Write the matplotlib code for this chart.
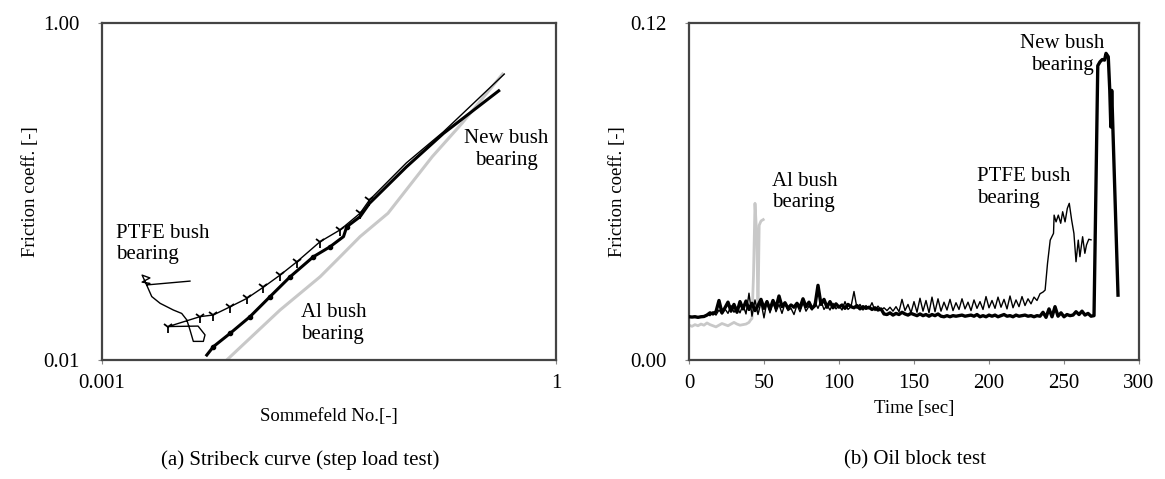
import matplotlib
matplotlib.use("Agg")
import matplotlib.pyplot as plt
from matplotlib.ticker import FixedLocator, NullLocator, FixedFormatter

plt.rcParams['font.family'] = ['Liberation Serif', 'DejaVu Serif']
plt.rcParams['font.size'] = 15

# (a) Stribeck curve: Sommerfeld number vs friction coefficient
al_a_x = [0.00667, 0.0150, 0.0276, 0.0374, 0.0507, 0.0775, 0.152, 0.239, 0.443]
al_a_y = [0.0100, 0.0198, 0.0312, 0.0410, 0.0540, 0.0743, 0.161, 0.254, 0.498]

new_a_x = [0.00492, 0.00544, 0.00702, 0.00951, 0.0129, 0.0175, 0.0249, 0.0321,
           0.0394, 0.0414, 0.0507, 0.0585, 0.1026, 0.180, 0.418]
new_a_y = [0.0107, 0.0120, 0.0144, 0.0181, 0.0238, 0.0312, 0.0410, 0.0470,
           0.0540, 0.0618, 0.0709, 0.0851, 0.140, 0.221, 0.396]

ptfe_a_x = [0.00381, 0.00197, 0.00184, 0.00207, 0.00184, 0.00207, 0.00197,
            0.00213, 0.00242, 0.00296, 0.00336, 0.00363, 0.00381, 0.00401,
            0.00467, 0.00479, 0.00431, 0.00274, 0.00445, 0.00543, 0.00702,
            0.00904, 0.0116, 0.0150, 0.0194, 0.0276, 0.0374, 0.0507, 0.0585,
            0.1026, 0.180, 0.455]
ptfe_a_y = [0.0294, 0.0279, 0.0319, 0.0307, 0.0290, 0.0285, 0.0279,
            0.0238, 0.0217, 0.0198, 0.0189, 0.0173, 0.0151, 0.0129,
            0.0129, 0.0141, 0.0159, 0.0158, 0.0181, 0.0185, 0.0207,
            0.0232, 0.0270, 0.0319, 0.0383, 0.0504, 0.0592, 0.0743, 0.0891,
            0.148, 0.226, 0.498]

# (b) Oil block test: time [sec] vs friction coefficient (x1e-3)
al_b_t = [0, 2, 4, 6, 8, 10, 12, 14, 16, 18, 20, 22, 24, 26, 28, 30, 32, 34, 36, 38,
          40, 41, 42, 43, 44, 45.2, 46, 46.8, 48, 49.5]
al_b_f = [12.4, 12.0, 12.6, 12.2, 12.8, 12.4, 13.2, 12.6, 12.2, 11.8, 12.4, 13.0,
          12.6, 12.2, 12.8, 13.4, 12.8, 12.4, 12.6, 12.8, 13.4, 14.2, 14.8, 30.0,
          55.8, 44.0, 17.0, 48.0, 49.5, 50.0]

new_b_t = list(range(0, 272, 2)) + [272.5, 274, 275.5, 277, 278, 279.5, 280.5, 281.2, 281.8, 286]
new_b_f = [15.4, 15.3, 15.4, 15.2, 15.4, 15.5, 16.0, 16.8, 16.4, 17.2,
           21.2, 16.8, 18.6, 20.6, 17.4, 19.8, 17.0, 20.8, 18.2, 21.0,
           18.0, 20.2, 17.6, 19.4, 21.6, 18.4, 20.8, 18.0, 21.2, 18.6,
           22.8, 19.0, 20.4, 18.4, 19.6, 18.8, 20.2, 18.6, 21.8, 19.0,
           20.6, 18.4, 19.4, 26.6, 19.8, 21.6, 18.8, 20.8, 18.6, 20.0,
           18.8, 19.6, 18.4, 19.8, 19.0, 18.6, 19.4, 18.2, 19.0, 18.4,
           18.8, 18.0, 18.6, 17.8, 18.2, 16.4, 16.2, 16.8, 16.0, 16.6,
           16.2, 17.0, 16.4, 16.0, 16.6, 16.2, 15.8, 16.4, 15.8, 16.2,
           15.6, 16.2, 15.8, 16.4, 15.6, 15.4, 15.8, 15.4, 15.8, 15.6,
           15.8, 16.0, 15.6, 15.8, 16.0, 15.6, 16.2, 15.4, 15.8, 15.4,
           16.0, 15.6, 16.0, 15.4, 15.8, 16.2, 15.6, 15.8, 15.4, 16.0,
           15.6, 15.8, 16.0, 15.6, 15.8, 15.4, 15.8, 15.6, 17.0, 15.2,
           18.2, 15.4, 19.0, 15.6, 16.8, 15.4, 16.2, 15.8, 16.0, 17.2,
           16.2, 17.4, 16.0, 16.6, 15.6, 15.8,
           104.8, 106.2, 107.0, 106.8, 109.2, 108.0, 96.0, 83.0, 96.0, 23.1]

ptfe_b_t = list(range(0, 236, 2)) + [236, 237.4, 239, 240.8, 243, 243.4, 244.7, 246.2,
                                      247.8, 249.1, 250.7, 252.2, 253.5, 255.1, 256.6,
                                      258, 259.5, 260.6, 262.4, 263.9, 265, 266.5, 268]
ptfe_b_f = [15.6, 15.4, 15.6, 15.3, 15.5, 15.6, 16.2, 15.8, 17.2, 16.0,
            17.8, 16.4, 18.2, 16.6, 19.4, 17.0, 18.8, 16.8, 19.6, 16.4,
            23.8, 15.6, 21.4, 16.2, 20.6, 15.0, 21.0, 16.8, 20.8, 17.2,
            19.8, 16.6, 20.2, 17.6, 18.4, 16.2, 19.6, 17.2, 20.4, 17.4,
            19.2, 17.8, 20.6, 18.4, 21.0, 18.0, 19.6, 17.8, 20.2, 18.2,
            19.4, 17.8, 20.8, 18.0, 19.0, 24.4, 18.4, 19.8, 17.8, 19.4,
            18.2, 20.4, 17.6, 19.2, 17.8, 18.6, 17.6, 18.8, 17.4, 19.0,
            17.2, 21.6, 17.6, 19.8, 16.8, 20.8, 17.0, 22.0, 17.4, 21.2,
            16.8, 22.4, 17.2, 21.8, 17.4, 20.6, 17.8, 21.6, 17.6, 20.4,
            18.0, 21.8, 18.2, 20.6, 17.6, 21.4, 18.4, 20.8, 18.0, 22.6,
            18.6, 21.2, 18.4, 22.4, 18.8, 21.6, 18.2, 22.8, 18.6, 21.4,
            19.0, 22.6, 19.4, 21.8, 20.0, 22.4, 21.2, 23.6,
            24.2, 24.9, 34.4, 42.7, 45.1, 51.6, 49.2, 51.6, 48.7, 52.8,
            49.2, 54.0, 55.8, 49.8, 45.1, 35.0, 42.7, 36.8, 43.9, 38.0,
            41.0, 43.0, 42.8]

spine_col = '#444444'
gray_col = '#c8c8c8'

fig = plt.figure(figsize=(11.65, 4.79), dpi=100)
ax1 = fig.add_axes([0.0876, 0.2484, 0.3897, 0.7035])
ax2 = fig.add_axes([0.5914, 0.2484, 0.3863, 0.7035])

# --- (a) ---
ax1.plot(al_a_x, al_a_y, color=gray_col, lw=2.2, zorder=2)
ax1.plot(new_a_x, new_a_y, color='black', lw=2.2, marker='o', ms=3,
         markevery=[1, 2, 3, 4, 5, 6, 7, 9], zorder=3)
ax1.plot(ptfe_a_x, ptfe_a_y, color='black', lw=1.0, marker='1', ms=8, mew=1.3,
         markevery=list(range(17, 29)), zorder=4)
ax1.set_xscale('log')
ax1.set_yscale('log')
ax1.set_xlim(0.001, 1)
ax1.set_ylim(0.01, 1)
ax1.xaxis.set_major_locator(FixedLocator([0.001, 1]))
ax1.xaxis.set_major_formatter(FixedFormatter(['0.001', '1']))
ax1.yaxis.set_major_locator(FixedLocator([0.01, 1]))
ax1.yaxis.set_major_formatter(FixedFormatter(['0.01', '1.00']))
ax1.xaxis.set_minor_locator(NullLocator())
ax1.yaxis.set_minor_locator(NullLocator())
ax1.set_xlabel('Sommefeld No.[-]', fontsize=13.5, labelpad=11)
ax1.set_ylabel('Friction coeff. [-]', fontsize=13.5, labelpad=3)
ax1.text(0.00124, 0.0488, 'PTFE bush\nbearing', ha='left', va='center')
ax1.text(0.468, 0.178, 'New bush\nbearing', ha='center', va='center')
ax1.text(0.0207, 0.0164, 'Al bush\nbearing', ha='left', va='center')

# --- (b) ---
ax2.plot(al_b_t, [v / 1000 for v in al_b_f], color=gray_col, lw=2.0, zorder=2)
ax2.plot(ptfe_b_t, [v / 1000 for v in ptfe_b_f], color='black', lw=1.0, zorder=4)
ax2.plot(new_b_t, [v / 1000 for v in new_b_f], color='black', lw=2.4, zorder=3)
ax2.set_xlim(0, 300)
ax2.set_ylim(0, 0.12)
ax2.set_xticks([0, 50, 100, 150, 200, 250, 300])
ax2.set_yticks([0, 0.12])
ax2.set_yticklabels(['0.00', '0.12'])
ax2.set_xlabel('Time [sec]', fontsize=13.5, labelpad=5)
ax2.set_ylabel('Friction coeff. [-]', fontsize=13.5, labelpad=3)
ax2.text(55.3, 0.0598, 'Al bush\nbearing', ha='left', va='center')
ax2.text(192, 0.0614, 'PTFE bush\nbearing', ha='left', va='center')
ax2.text(248.7, 0.1088, 'New bush\nbearing', ha='center', va='center')

for ax in (ax1, ax2):
    for s in ax.spines.values():
        s.set_color(spine_col)
        s.set_linewidth(1.6)
    ax.tick_params(direction='out', length=3, width=0.8, color='#888888',
                   labelsize=15)
    ax.tick_params(axis='y', pad=13)
    ax.tick_params(axis='x', pad=7)

fig.text(0.258, 0.04, '(a) Stribeck curve (step load test)', ha='center', va='center')
fig.text(0.785, 0.04, '(b) Oil block test', ha='center', va='center')

fig.savefig('out.png', dpi=100)
